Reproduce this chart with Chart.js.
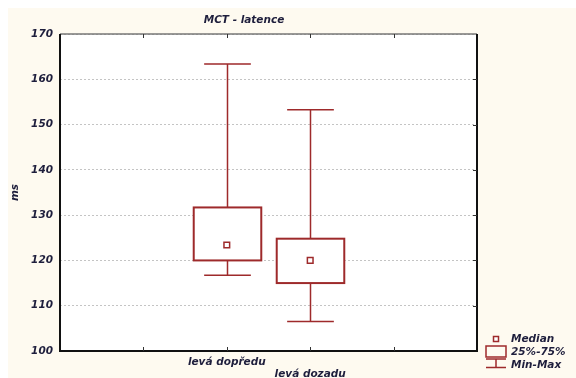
<!DOCTYPE html>
<html>
<head>
<meta charset="utf-8">
<script src="https://cdn.jsdelivr.net/npm/chart.js@4/dist/chart.umd.min.js"></script>
<style>
html, body { margin: 0; padding: 0; background: #fff; }
#wrap { width: 576px; height: 378px; }
</style>
</head>
<body>
<div id="wrap"><canvas id="boxChart" width="576" height="378"></canvas></div>
<script>
// data
const categories = ["levá dopředu", "levá dozadu"];
const positions = [2, 3];
const minVals = [116.7, 106.5];
const q1Vals = [120.0, 115.0];
const medianVals = [123.4, 120.0];
const q3Vals = [131.7, 124.8];
const maxVals = [163.4, 153.3];
const yTicks = [100, 110, 120, 130, 140, 150, 160, 170];
const legendLabels = ["Median", "25%-75%", "Min-Max"];
const chartTitle = "MCT - latence";
const yTitle = "ms";

const RED = "#9e2a2b";
const TXT = "#1e1e3c";
const FONT = "italic bold 10.5px 'DejaVu Sans'";

const boxPlugin = {
    id: "boxPlot",
    beforeDraw(chart) {
        const { ctx, chartArea: a } = chart;
        ctx.save();
        ctx.fillStyle = "#ffffff";
        ctx.fillRect(0, 0, chart.width, chart.height);
        ctx.fillStyle = "#fefaf0";
        ctx.fillRect(8, 8, chart.width - 8, chart.height - 8);
        ctx.fillStyle = "#ffffff";
        ctx.fillRect(a.left, a.top, a.right - a.left, a.bottom - a.top);
        ctx.restore();
    },
    beforeDatasetsDraw(chart) {
        const { ctx, scales: { x, y } } = chart;
        const unit = x.getPixelForValue(1) - x.getPixelForValue(0);
        const half = unit * 0.405;
        const cap = unit * 0.28;
        ctx.save();
        ctx.strokeStyle = RED;
        positions.forEach((p, i) => {
            const cx = Math.round(x.getPixelForValue(p)) + 0.5;
            const yMin = y.getPixelForValue(minVals[i]);
            const yQ1 = y.getPixelForValue(q1Vals[i]);
            const yQ3 = y.getPixelForValue(q3Vals[i]);
            const yMax = y.getPixelForValue(maxVals[i]);
            ctx.lineWidth = 1.5;
            ctx.beginPath();
            ctx.moveTo(cx, yMax); ctx.lineTo(cx, yQ3);
            ctx.moveTo(cx, yQ1); ctx.lineTo(cx, yMin);
            ctx.moveTo(cx - cap, yMax); ctx.lineTo(cx + cap, yMax);
            ctx.moveTo(cx - cap, yMin); ctx.lineTo(cx + cap, yMin);
            ctx.stroke();
            ctx.fillStyle = "#ffffff";
            ctx.fillRect(cx - half, yQ3, half * 2, yQ1 - yQ3);
            ctx.lineWidth = 2;
            ctx.strokeRect(cx - half, yQ3, half * 2, yQ1 - yQ3);
        });
        ctx.restore();
    },
    afterDraw(chart) {
        const { ctx, chartArea: a, scales: { x, y } } = chart;
        ctx.save();
        // frame
        ctx.lineWidth = 1.5;
        ctx.strokeStyle = "#777777";
        ctx.beginPath();
        ctx.moveTo(a.left, a.top); ctx.lineTo(a.right, a.top);
        ctx.stroke();
        ctx.lineWidth = 2;
        ctx.strokeStyle = "#111111";
        ctx.beginPath();
        ctx.moveTo(a.left, a.top); ctx.lineTo(a.left, a.bottom); ctx.lineTo(a.right, a.bottom); ctx.lineTo(a.right, a.top);
        ctx.stroke();
        // inner ticks
        ctx.lineWidth = 1;
        ctx.strokeStyle = "#333333";
        ctx.beginPath();
        [1, 2, 3, 4].forEach(v => {
            const px = Math.round(x.getPixelForValue(v)) + 0.5;
            ctx.moveTo(px, a.top); ctx.lineTo(px, a.top + 4);
            ctx.moveTo(px, a.bottom); ctx.lineTo(px, a.bottom - 4);
        });
        yTicks.slice(1, -1).forEach(v => {
            const py = Math.round(y.getPixelForValue(v)) + 0.5;
            ctx.moveTo(a.right, py); ctx.lineTo(a.right - 4, py);
        });
        ctx.stroke();

        ctx.font = FONT;
        ctx.fillStyle = TXT;
        ctx.textBaseline = "middle";
        // title
        ctx.textAlign = "center";
        ctx.fillText(chartTitle, 244, 20);
        // staggered category labels
        categories.forEach((c, i) => {
            ctx.fillText(c, x.getPixelForValue(positions[i]), i % 2 === 0 ? 362 : 374);
        });

        // legend
        ctx.textAlign = "left";
        const lx = 496;
        ctx.fillText(legendLabels[0], 511, 339);
        ctx.fillText(legendLabels[1], 511, 352);
        ctx.fillText(legendLabels[2], 511, 365);
        ctx.strokeStyle = RED;
        ctx.lineWidth = 1.5;
        ctx.fillStyle = "#ffffff";
        ctx.fillRect(lx - 2.5, 336.5, 5, 5);
        ctx.strokeRect(lx - 2.5, 336.5, 5, 5);
        ctx.strokeRect(lx - 10, 346, 20, 11);
        ctx.beginPath();
        ctx.moveTo(lx - 10, 359); ctx.lineTo(lx + 10, 359);
        ctx.moveTo(lx, 359); ctx.lineTo(lx, 367.5);
        ctx.moveTo(lx - 10, 367.5); ctx.lineTo(lx + 10, 367.5);
        ctx.stroke();
        ctx.restore();
    }
};

new Chart(document.getElementById("boxChart"), {
    type: "scatter",
    data: {
        datasets: [{
            label: legendLabels[0],
            data: positions.map((p, i) => ({ x: p, y: medianVals[i] })),
            pointStyle: "rect",
            pointRadius: 4,
            pointBorderWidth: 1.5,
            borderColor: RED,
            backgroundColor: "#ffffff"
        }]
    },
    options: {
        responsive: false,
        animation: false,
        devicePixelRatio: 1,
        layout: { padding: { top: 34, right: 99, left: 0, bottom: 0 } },
        plugins: {
            legend: { display: false },
            tooltip: { enabled: false }
        },
        scales: {
            x: {
                type: "linear",
                min: 0,
                max: 5,
                ticks: { display: false, stepSize: 1 },
                grid: { display: false },
                border: { display: false },
                afterFit: s => { s.height = 27; }
            },
            y: {
                min: 100,
                max: 170,
                afterBuildTicks: s => { s.ticks = yTicks.map(v => ({ value: v })); },
                ticks: {
                    color: TXT,
                    padding: 7,
                    font: { family: "DejaVu Sans", size: 10.5, weight: "bold", style: "italic" }
                },
                grid: { color: "#c4c4c4", drawTicks: false, lineWidth: 1 },
                border: { display: false, dash: [2, 2] },
                title: {
                    display: true,
                    text: yTitle,
                    color: TXT,
                    padding: { top: 9, bottom: 0 },
                    font: { family: "DejaVu Sans", size: 10.5, weight: "bold", style: "italic" }
                },
                afterFit: s => { s.width = 60; }
            }
        }
    },
    plugins: [boxPlugin]
});
</script>
</body>
</html>
